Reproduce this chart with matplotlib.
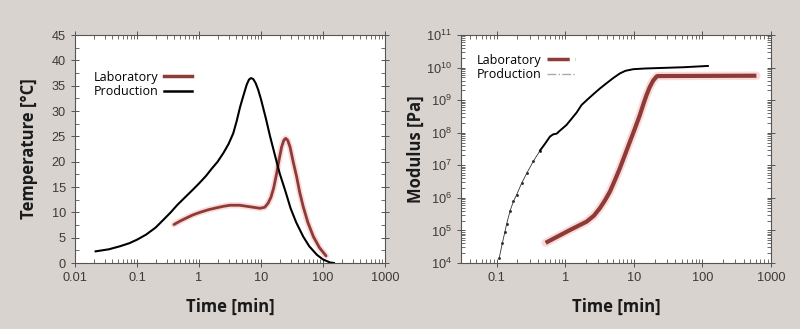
import matplotlib
matplotlib.use("Agg")
import matplotlib.pyplot as plt
from matplotlib.ticker import LogLocator, MultipleLocator, FixedLocator, FixedFormatter, NullFormatter
from matplotlib.lines import Line2D

# ---------------- data ----------------
# Left panel: temperature [°C] vs time [min]
prod_t_time = [0.0215, 0.035, 0.053, 0.075, 0.1, 0.14, 0.2, 0.27, 0.35, 0.45, 0.6, 0.8, 1.0,
               1.3, 1.6, 2.0, 2.5, 3.0, 3.57, 4.05, 4.6, 5.19, 5.88, 6.4, 6.9, 7.5, 8.2, 9.0, 10.0,
               12.0, 14.0, 17.0, 20.0, 25.0, 30.0, 37.0, 48.0, 60.0, 80.0, 100.0, 130.0, 150.0]
prod_t_temp = [2.3, 2.7, 3.3, 3.9, 4.6, 5.6, 7.0, 8.6, 10.0, 11.5, 13.0, 14.5, 15.7,
               17.2, 18.6, 20.0, 21.8, 23.5, 25.6, 28.0, 30.8, 33.0, 35.2, 36.2, 36.5, 36.3, 35.5, 34.2, 32.3,
               28.5, 25.0, 21.0, 17.7, 14.0, 10.8, 8.0, 5.2, 3.3, 1.6, 0.7, 0.1, 0.0]

lab_t_time = [0.395, 0.5, 0.63, 0.8, 1.04, 1.4, 1.93, 2.5, 3.16, 4.5, 6.65, 9.64, 11.5,
              13.0, 14.5, 16.0, 17.9, 19.5, 21.5, 23.3, 25.0, 27.0, 29.4, 33.0, 37.6,
              42.0, 48.0, 57.0, 70.0, 88.0, 112.0]
lab_t_temp = [7.6, 8.3, 8.9, 9.5, 10.0, 10.5, 10.9, 11.2, 11.4, 11.4, 11.1, 10.8, 11.0,
              11.8, 13.0, 14.8, 17.7, 20.3, 22.9, 24.2, 24.6, 24.2, 22.9, 20.0, 17.0,
              14.0, 11.1, 8.0, 5.2, 3.0, 1.4]

# Right panel: modulus [Pa] (as log10) vs time [min]
prod_m_time = [0.108, 0.12, 0.131, 0.139, 0.156, 0.175, 0.195, 0.23, 0.272, 0.34, 0.426,
               0.52, 0.595, 0.664, 0.744, 0.85, 1.04, 1.2, 1.46, 1.72, 2.1, 2.55, 3.2,
               3.99, 5.0, 6.24, 7.5, 9.75, 14.0, 19.1, 52.5, 120.0]
prod_m_logmod = [4.14, 4.6, 4.95, 5.2, 5.6, 5.9, 6.1, 6.45, 6.75, 7.12, 7.45,
                 7.7, 7.88, 7.95, 7.97, 8.08, 8.24, 8.4, 8.62, 8.85, 9.02, 9.18, 9.36,
                 9.52, 9.68, 9.82, 9.9, 9.95, 9.97, 9.98, 10.01, 10.05]

lab_m_time = [0.515, 1.16, 2.04, 2.6, 3.18, 3.8, 4.46, 5.3, 6.24, 7.4, 8.72, 10.3, 12.2,
              13.7, 15.3, 17.0, 19.1, 21.5, 22.5, 612.0]
lab_m_logmod = [4.62, 5.01, 5.27, 5.45, 5.68, 5.93, 6.19, 6.55, 6.91, 7.32, 7.72, 8.12, 8.54,
                8.87, 9.16, 9.40, 9.60, 9.73, 9.74, 9.75]

left_xticks = [0.01, 0.1, 1, 10, 100, 1000]
left_xticklabels = ["0.01", "0.1", "1", "10", "100", "1000"]
left_yticks = [0, 5, 10, 15, 20, 25, 30, 35, 40, 45]
right_xticks = [0.1, 1, 10, 100, 1000]
right_xticklabels = ["0.1", "1", "10", "100", "1000"]

series_names = ["Laboratory", "Production"]

# ---------------- style ----------------
BG = "#d9d3cf"
RED = "#8e3a36"
GLOW = "#f2b8b8"
TICKC = "#3a3a3a"
plt.rcParams['font.family'] = ['Liberation Sans', 'DejaVu Sans']
plt.rcParams['mathtext.fontset'] = 'custom'
plt.rcParams['mathtext.rm'] = 'Liberation Sans'
plt.rcParams['mathtext.it'] = 'Liberation Sans'

fig = plt.figure(figsize=(8, 3.29), dpi=100, facecolor=BG)
axL = fig.add_axes([75/800, 66/329, 310/800, 228/329])
axR = fig.add_axes([461/800, 66/329, 310/800, 228/329])

label_font = dict(family=['Open Sans', 'DejaVu Sans'], fontweight='bold', fontsize=12, color='#1a1a1a')
legend_font = dict(family=['Open Sans', 'DejaVu Sans'], size=9)

def style_axes(ax):
    ax.set_facecolor('white')
    for s in ax.spines.values():
        s.set_color('#555555')
        s.set_linewidth(0.8)
    ax.tick_params(which='major', direction='inout', length=6, width=0.7, color='#555555',
                   top=True, right=True, labelsize=9.2, labelcolor=TICKC)
    ax.tick_params(which='minor', direction='in', length=3, width=0.6, color='#555555',
                   top=True, right=True)

# ---------------- left panel ----------------
style_axes(axL)
axL.set_xscale('log')
axL.plot(lab_t_time, lab_t_temp, color=GLOW, lw=4.5, alpha=0.5, solid_capstyle='round')
axL.plot(lab_t_time, lab_t_temp, color=RED, lw=2, solid_capstyle='round')
axL.plot(prod_t_time, prod_t_temp, color='black', lw=1.5)
axL.set_xlim(0.01, 1000)
axL.set_ylim(0, 45)
axL.xaxis.set_major_locator(FixedLocator(left_xticks))
axL.xaxis.set_major_formatter(FixedFormatter(left_xticklabels))
axL.xaxis.set_minor_locator(LogLocator(base=10, subs=range(2, 10), numticks=20))
axL.xaxis.set_minor_formatter(NullFormatter())
axL.yaxis.set_major_locator(FixedLocator(left_yticks))
axL.yaxis.set_minor_locator(MultipleLocator(2.5))
axL.set_xlabel("Time [min]", **label_font)
axL.set_ylabel("Temperature [°C]", **label_font)
axL.xaxis.set_label_coords(0.5, -0.155)
axL.yaxis.set_label_coords(-0.118, 0.5)

hL = [Line2D([], [], color=RED, lw=2.5), Line2D([], [], color='black', lw=1.8)]
axL.legend(hL, series_names, loc='upper left', bbox_to_anchor=(0.045, 0.865), frameon=False,
           markerfirst=False, prop=legend_font, handlelength=2.3, handletextpad=0.4,
           labelspacing=0.1, borderaxespad=0)

# ---------------- right panel ----------------
style_axes(axR)
axR.set_xscale('log')
axR.set_yscale('log')
lab_mod = [10 ** v for v in lab_m_logmod]
prod_mod = [10 ** v for v in prod_m_logmod]
axR.plot(lab_m_time, lab_mod, color=GLOW, lw=6, alpha=0.5, solid_capstyle='round')
axR.plot(lab_m_time, lab_mod, color=RED, lw=3, solid_capstyle='butt')
n_early = 11
axR.plot(prod_m_time[:n_early], prod_mod[:n_early], color='#333333', lw=0.6,
         marker='.', markersize=2.2)
axR.plot(prod_m_time[n_early - 1:], prod_mod[n_early - 1:], color='black', lw=1.4)
axR.set_xlim(0.03, 1000)
axR.set_ylim(1e4, 1e11)
axR.xaxis.set_major_locator(FixedLocator(right_xticks))
axR.xaxis.set_major_formatter(FixedFormatter(right_xticklabels))
axR.xaxis.set_minor_locator(LogLocator(base=10, subs=range(2, 10), numticks=20))
axR.xaxis.set_minor_formatter(NullFormatter())
axR.yaxis.set_major_locator(LogLocator(base=10, numticks=20))
axR.yaxis.set_minor_locator(LogLocator(base=10, subs=range(2, 10), numticks=20))
axR.yaxis.set_minor_formatter(NullFormatter())
axR.set_xlabel("Time [min]", **label_font)
axR.set_ylabel("Modulus [Pa]", **label_font)
axR.xaxis.set_label_coords(0.5, -0.155)
axR.yaxis.set_label_coords(-0.118, 0.5)

hR = [Line2D([], [], color=RED, lw=2.5, ls='-.'), Line2D([], [], color='#aaaaaa', lw=1.0, ls='-.')]
axR.legend(hR, series_names, loc='upper left', bbox_to_anchor=(0.035, 0.94), frameon=False,
           markerfirst=False, prop=legend_font, handlelength=2.3, handletextpad=0.4,
           labelspacing=0.1, borderaxespad=0)

fig.savefig("out.png", dpi=100, facecolor=BG)
